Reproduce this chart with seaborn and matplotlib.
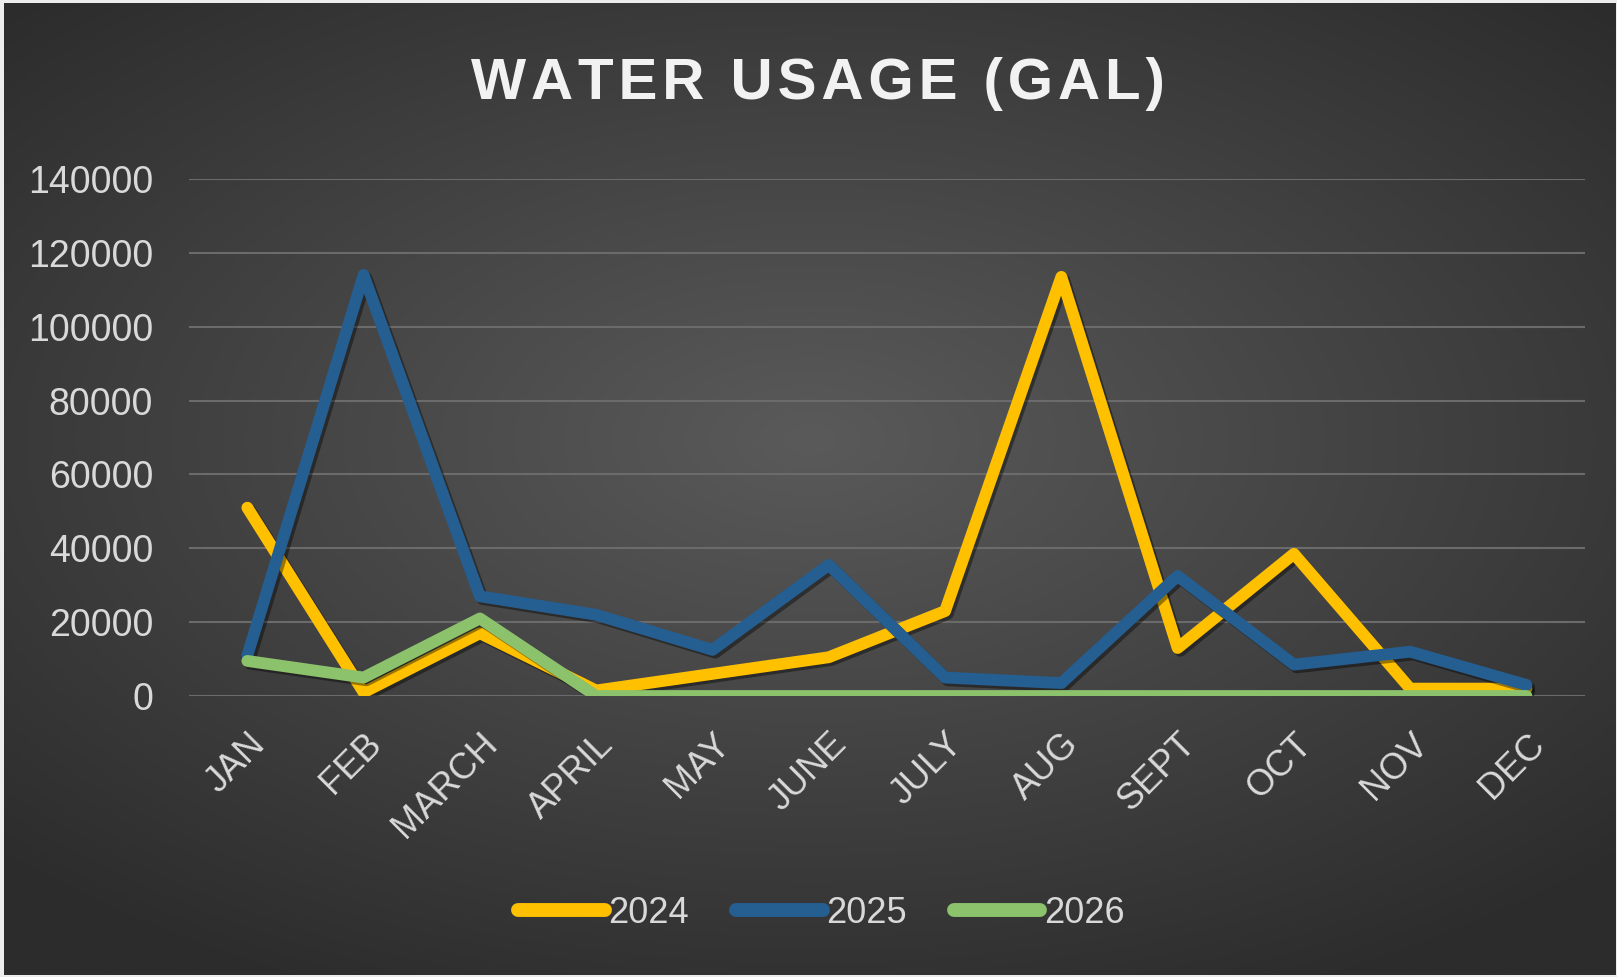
import numpy as np
import pandas as pd
import seaborn as sns
import matplotlib.pyplot as plt
import matplotlib.patheffects as pe

months = ['JAN', 'FEB', 'MARCH', 'APRIL', 'MAY', 'JUNE', 'JULY', 'AUG', 'SEPT', 'OCT', 'NOV', 'DEC']
usage_2024 = [51000, 1000, 17000, 1500, 6000, 10500, 23000, 113500, 13000, 38500, 2000, 2000]
usage_2025 = [11000, 114000, 27000, 22000, 12500, 35500, 5000, 3500, 32500, 8500, 12000, 3000]
usage_2026 = [9500, 5000, 21000, 0, 0, 0, 0, 0, 0, 0, 0, 0]
years = ['2024', '2025', '2026']
colors = ['#FFC000', '#255E91', '#8CC26C']

df = pd.DataFrame({'month': months, '2024': usage_2024, '2025': usage_2025, '2026': usage_2026})
df = df.melt(id_vars=['month'], var_name='year', value_name='gal')

sns.set_style('dark')
txt = '#D9D9D9'
fam = ['Liberation Sans', 'DejaVu Sans']

fig = plt.figure(figsize=(16.17, 9.77), dpi=100, facecolor='#EDEDED')

# radial gradient background like the excel dark style
bg = fig.add_axes([0.0025, 0.002, 0.9965, 0.995], zorder=-10)
yy, xx = np.mgrid[-1:1:400j, -1:1:600j]
r = np.sqrt((xx * 1.0) ** 2 + ((yy + 0.1) * 1.1) ** 2)
bg.imshow(r, cmap=sns.blend_palette(['#5A5A5A', '#2C2C2C'], as_cmap=True),
          vmin=0, vmax=1.4, aspect='auto', extent=[0, 1, 0, 1])
bg.set_axis_off()

ax = fig.add_axes([0.117, 0.2876, 0.863, 0.5292])
ax.set_facecolor('none')

shadow = [pe.SimpleLineShadow(offset=(2, -2), shadow_color='black', alpha=0.4), pe.Normal()]
sns.lineplot(data=df, x='month', y='gal', hue='year', palette=colors, linewidth=8.5,
             ax=ax, sort=False, legend=True, path_effects=shadow)

ax.set_ylim(0, 140000)
ax.set_xlim(-0.5, 11.5)
ax.set_yticks(range(0, 140001, 20000))
ax.grid(axis='y', color='#6B6B6B', linewidth=1.5)
ax.grid(axis='x', visible=False)
for s in ax.spines.values():
    s.set_visible(False)
ax.tick_params(axis='y', length=0, colors=txt, labelsize=27, pad=26)
ax.tick_params(axis='x', length=0, colors=txt, labelsize=26, pad=22)
plt.setp(ax.get_yticklabels(), family=fam)
plt.setp(ax.get_xticklabels(), rotation=45, ha='right', rotation_mode='anchor', family=fam)
ax.set_xlabel('')
ax.set_ylabel('')

leg = ax.legend(loc='center', bbox_to_anchor=(0.453, -0.42), ncol=3, frameon=False,
                handlelength=2.4, handletextpad=0.1, columnspacing=1.3,
                prop={'family': fam, 'size': 26})
for t in leg.get_texts():
    t.set_color(txt)
for h in leg.get_lines():
    h.set_linewidth(10)
    h.set_path_effects([])

title = '\u200a'.join('WATER USAGE (GAL)')
fig.text(0.506, 0.914, title, ha='center', va='center', color='#F2F2F2',
         fontsize=42, fontweight='bold', family=fam)

fig.savefig('out.png', dpi=100, facecolor=fig.get_facecolor())
